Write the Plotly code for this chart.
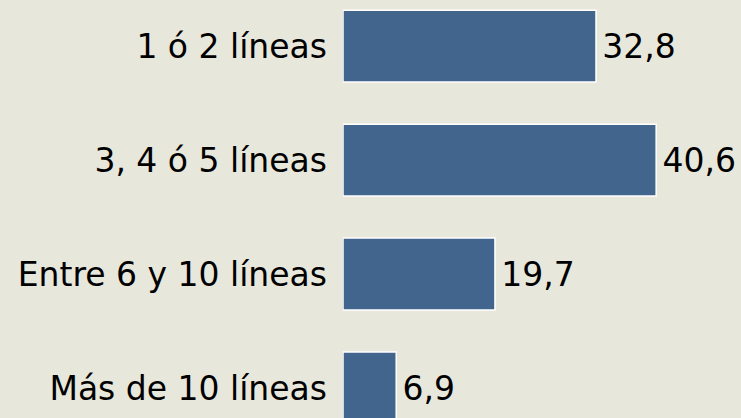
import plotly.graph_objects as go

categorias = ["1 ó 2 líneas", "3, 4 ó 5 líneas", "Entre 6 y 10 líneas", "Más de 10 líneas"]
porcentajes = [32.8, 40.6, 19.7, 6.9]

fondo = "#e8e7dc"

fig = go.Figure()

fig.add_trace(go.Bar(
    x=porcentajes,
    y=categorias,
    orientation="h",
    marker=dict(color="#41658c", line=dict(color="white", width=1.5)),
    texttemplate="\u200a%{x:.1f}",
    textposition="outside",
    textfont=dict(size=33, color="black"),
    cliponaxis=False,
    hoverinfo="skip",
))

fig.update_layout(
    width=741,
    height=418,
    margin=dict(l=343, r=0, t=0, b=0),
    paper_bgcolor=fondo,
    plot_bgcolor=fondo,
    font=dict(family="DejaVu Sans", size=33, color="black"),
    separators=",.",
    bargap=0.37,
    showlegend=False,
    xaxis=dict(
        range=[0, 51.6],
        showgrid=False,
        zeroline=False,
        showticklabels=False,
        fixedrange=True,
    ),
    yaxis=dict(
        range=[3.263, -0.404],
        showgrid=False,
        zeroline=False,
        ticklabelstandoff=15,
        fixedrange=True,
    ),
)

# quitar el margen del body para que la figura empiece en (0, 0)
fig.write_html(
    "out.html",
    config={"displayModeBar": False},
    post_script="document.body.style.margin='0';document.body.style.background='%s';" % fondo,
)
